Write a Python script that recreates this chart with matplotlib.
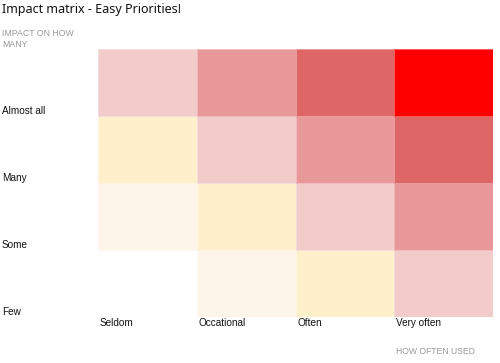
import matplotlib.pyplot as plt
from matplotlib.colors import ListedColormap
import matplotlib.transforms as mtransforms
import numpy as np

x_labels = ['Seldom', 'Occational', 'Often', 'Very often']
y_labels = ['Few', 'Some', 'Many', 'Almost all']
# priority level of each cell, rows from bottom (Few) to top (Almost all)
levels = [[0, 1, 2, 3],
          [1, 2, 3, 4],
          [2, 3, 4, 5],
          [3, 4, 5, 6]]
level_colors = ['#ffffff', '#fdf5ea', '#fff0cc', '#f2cbcb', '#e89899', '#df6666', '#ff0000']

fig = plt.figure(figsize=(5.0, 3.63), dpi=100)
ax = fig.add_axes([98 / 500, 46 / 363, 395 / 500, 268 / 363])

cmap = ListedColormap(level_colors)
z = np.array(levels)
ax.pcolormesh(np.arange(len(x_labels) + 1), np.arange(len(y_labels) + 1), z,
              cmap=cmap, vmin=-0.5, vmax=len(level_colors) - 0.5,
              edgecolor=(1, 1, 1, 0.35), linewidth=0.5)
ax.set_xlim(0, len(x_labels))
ax.set_ylim(0, len(y_labels))
for s in ax.spines.values():
    s.set_visible(False)
ax.set_xticks([])
ax.set_yticks([])

# y labels near the bottom of each row, at the left edge of the figure
ytr = mtransforms.blended_transform_factory(fig.transFigure, ax.transData)
for i, lab in enumerate(y_labels):
    ax.text(2 / 500, i + 0.08, lab, transform=ytr, ha='left', va='center',
            fontsize=7.2, family='Liberation Sans', color='#111111')

# x labels under the left edge of each column
xtr = mtransforms.blended_transform_factory(ax.transData, fig.transFigure)
for j, lab in enumerate(x_labels):
    ax.text(j + 0.02, 1 - 323 / 363, lab, transform=xtr, ha='left', va='center',
            fontsize=7.2, family='Liberation Sans', color='#111111')

fig.text(2 / 500, 1 - 9 / 363, 'Impact matrix - Easy Priorities!', ha='left', va='center',
         fontsize=9, family='Noto Sans', color='#111111')
fig.text(2 / 500, 1 - 39 / 363, 'IMPACT ON HOW\nMANY', ha='left', va='center',
         fontsize=6.3, family='Liberation Sans', color='#999999', linespacing=1.15)
fig.text(396 / 500, 1 - 352 / 363, 'HOW OFTEN USED', ha='left', va='center',
         fontsize=6.2, family='Liberation Sans', color='#999999')

fig.savefig('out.png', dpi=100)
